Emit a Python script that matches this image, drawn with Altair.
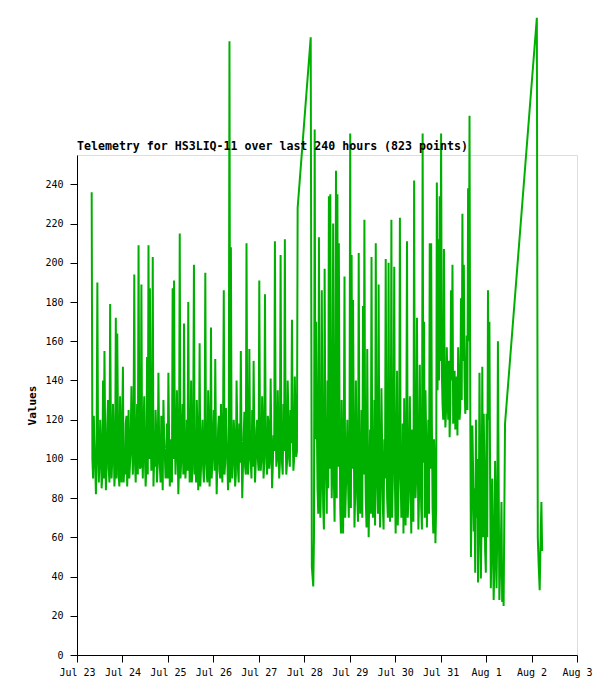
import altair as alt
import pandas as pd

# ---- data ----
# hours are counted from Jul 23 00:00; telemetry sampled every 22.5 minutes within segments
SAMPLE_STEP_H = 0.375
seg1_start_h = 7.75
# main samples (every other reading) of the first block
seg1_values = [
    236, 90, 105, 82, 190, 88, 120, 85, 140, 155,
    84, 118, 95, 179, 90, 128, 86, 172, 164, 92,
    132, 88, 147, 96, 118, 86, 125, 98, 137, 92,
    194, 88, 128, 209, 95, 189, 90, 132, 86, 152,
    209, 187, 94, 203, 100, 125, 88, 144, 96, 122,
    84, 112, 90, 118, 144, 86, 110, 187, 191, 92,
    135, 82, 215, 98, 128, 169, 90, 120, 180, 88,
    140, 95, 199, 105, 130, 84, 159, 96, 120, 88,
    195, 92, 135, 86, 167, 100, 125, 151, 82, 115,
    94, 128, 88, 186, 98, 110, 84, 313, 208, 90,
    120, 86, 140, 95, 118, 155, 80, 112, 96, 210,
    92, 156, 98, 125, 150, 88, 115, 100, 191, 94,
    132, 90, 184, 100, 122, 95, 141, 85, 112, 211,
    96, 135, 90, 204, 98, 128, 212, 92, 140, 100,
    125, 171, 94, 142, 101, 228,
]
# readings that fall between the main samples of the first block
seg1_between = [
    100, 122, 96, 110, 104, 98, 108, 92, 90, 112,
    96, 130, 88, 115, 100, 110, 95, 90, 120, 86,
    108, 118, 88, 92, 122, 100, 90, 112, 104, 120,
    98, 110, 92, 118, 96, 104, 115, 100, 96, 92,
    100, 118, 104, 86, 96, 112, 98, 108, 88, 105,
    130, 102, 95, 90, 112, 98, 88, 100, 115, 104,
    110, 96, 90, 114, 92, 108, 98, 94, 110, 102,
    88, 120, 92, 88, 114, 100, 86, 110, 95, 108,
    100, 88, 118, 96, 90, 112, 94, 108, 98, 122,
    90, 104, 116, 92, 126, 100, 96, 88, 110, 100,
    112, 92, 116, 88, 98, 108, 96, 124, 92, 118,
    100, 106, 90, 96, 112, 98, 120, 94, 108, 100,
    116, 98, 112, 92, 118, 100, 110, 96, 104, 118,
    100, 114, 98, 110, 92, 104, 116, 98, 122, 96,
    108, 115, 100, 118, 104,
]
gap1_hours = [123.4]
gap1_values = [315]
seg2_start_h = 124.0
seg2_values = [
    45, 35, 268, 170, 85, 213, 70, 186, 75, 197,
    90, 140, 234, 235, 80, 220, 68, 247, 235, 210,
    75, 130, 62, 193, 85, 120, 70, 266, 204, 181,
    65, 140, 80, 205, 72, 125, 178, 222, 78, 156,
    60, 115, 203, 70, 130, 210, 85, 189, 65, 136,
    75, 110, 202, 80, 200, 68, 222, 90, 198, 62,
    145, 85, 223, 70, 118, 131, 66, 211, 78, 132,
    62, 105, 242, 80, 172, 64, 148, 75, 266, 170,
    135, 65, 120, 210, 210, 75, 110, 57, 241, 212,
    234, 266, 128, 207, 116, 157, 120, 111, 186, 199,
    130, 115, 142, 157, 120, 182, 225, 199, 123, 163,
    238, 275, 50, 117, 63, 42, 70, 37, 144, 39,
    147, 123, 53, 123, 186, 170, 34, 90, 28, 99,
    34, 160, 28, 53, 27, 25,
]
seg2_between = [
    40, 60, 110, 120, 72, 95, 88, 105, 64, 110,
    72, 85, 95, 120, 100, 90, 115, 80, 96, 120,
    62, 95, 110, 70, 100, 88, 105, 75, 95, 115,
    82, 102, 68, 98, 88, 70, 92, 110, 65, 100,
    85, 72, 96, 84, 66, 108, 72, 98, 90, 104,
    64, 90, 112, 70, 96, 84, 70, 108, 88, 100,
    66, 104, 92, 80, 62, 95, 110, 70, 98, 86,
    115, 68, 102, 92, 108, 82, 100, 64, 98, 70,
    110, 88, 72, 95, 118, 62, 96, 75, 135, 140,
    150, 145, 120, 140, 125, 138, 150, 128, 140, 118,
    145, 125, 112, 140, 126, 130, 150, 140, 130, 125,
    160, 130, 80, 95, 85, 120, 100, 60, 100, 70,
    60, 95, 42, 60, 120, 90, 55, 60, 45, 75,
    60, 90, 42, 78, 40,
]
gap2_hours = [226.0, 242.8]
gap2_values = [118, 325]
seg3_hours = [243.3, 243.8, 244.3, 244.8, 245.2, 245.6]
seg3_values = [60, 45, 33, 60, 78, 53]

title_text = "Telemetry for HS3LIQ-11 over last 240 hours (823 points)"
y_ticks = list(range(0, 241, 20))
start_day = pd.Timestamp("2025-07-23 00:00:00")


def interleave(main, between):
    out = []
    for i, v in enumerate(main):
        out.append(v)
        if i < len(between) and i < len(main) - 1:
            out.append(between[i])
    return out


s1 = interleave(seg1_values, seg1_between)
s2 = interleave(seg2_values, seg2_between)

hours = (
    [seg1_start_h + SAMPLE_STEP_H * i for i in range(len(s1))]
    + gap1_hours
    + [seg2_start_h + SAMPLE_STEP_H * i for i in range(len(s2))]
    + gap2_hours
    + seg3_hours
)
values = s1 + gap1_values + s2 + gap2_values + seg3_values
times = [(start_day + pd.Timedelta(hours=h)).strftime("%Y-%m-%dT%H:%M:%S") for h in hours]
df = pd.DataFrame({"time": times, "value": values})

day_ticks = [alt.DateTime(year=2025, month=7, date=d) for d in range(23, 32)] + \
            [alt.DateTime(year=2025, month=8, date=d) for d in range(1, 4)]

FONT = "DejaVu Sans Mono"

line = alt.Chart(df).mark_line(
    color="#00b000", strokeWidth=2, strokeJoin="bevel", strokeCap="butt"
).encode(
    x=alt.X(
        "time:T",
        scale=alt.Scale(
            domain=[alt.DateTime(year=2025, month=7, date=23),
                    alt.DateTime(year=2025, month=8, date=3)],
            nice=False,
        ),
        axis=alt.Axis(
            values=day_ticks,
            format="%b %-d",
            title=None,
            grid=False,
            tickSize=7,
            labelPadding=5,
            labelFont=FONT,
            labelFontSize=10,
            labelColor="black",
            domainColor="black",
            tickColor="black",
            labelFlush=False,
            labelOverlap=False,
        ),
    ),
    y=alt.Y(
        "value:Q",
        scale=alt.Scale(domain=[0, 255], nice=False, zero=True),
        axis=alt.Axis(
            values=y_ticks,
            title="Values",
            titleFont=FONT,
            titleFontSize=11,
            titleFontWeight="bold",
            titleColor="black",
            titlePadding=7,
            grid=False,
            tickSize=7,
            labelPadding=7,
            labelFont=FONT,
            labelFontSize=10,
            labelColor="black",
            domainColor="black",
            tickColor="black",
            labelFlush=False,
            labelOverlap=False,
        ),
    ),
)

title = alt.Chart(pd.DataFrame({"t": [title_text]})).mark_text(
    align="left",
    baseline="alphabetic",
    font=FONT,
    fontSize=11.6,
    fontWeight="bold",
    color="black",
).encode(x=alt.value(0), y=alt.value(-5), text="t:N")

chart = (
    alt.layer(line, title)
    .properties(
        width=500,
        height=500,
        autosize=alt.AutoSizeParams(type="none"),
        padding={"left": 69, "top": 147, "right": 30, "bottom": 33},
    )
    .configure_view(stroke="#444444", strokeWidth=1)
    .configure(background="white")
)

chart.save("out.html", embed_options={"renderer": "svg", "actions": False})
